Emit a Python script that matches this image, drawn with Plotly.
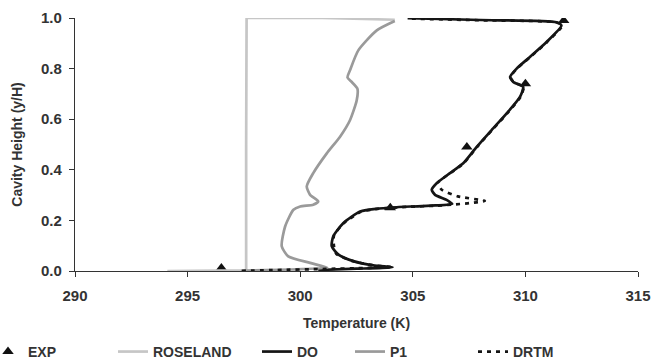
import plotly.graph_objects as go

# ---- data ----
exp_T = [296.5, 304.0, 307.4, 310.0, 311.7]
exp_y = [0.012, 0.25, 0.49, 0.74, 0.99]

ros_T = [294.1, 297.6, 297.6, 297.62, 301.0, 304.2]
ros_y = [0.0, 0.003, 0.5, 1.0, 1.0, 0.993]

do_T = [300.8, 302.5, 304.1, 303.25, 302.36, 301.7, 301.4, 301.47, 301.92, 302.66, 303.5, 304.9,
        306.0, 306.75, 306.5, 305.99, 305.84, 306.06, 306.65, 307.24, 307.84, 308.5, 309.17,
        309.76, 309.9, 309.46, 309.32, 309.61, 310.2, 310.94, 311.6, 311.38, 308.0, 304.77]
do_y = [0.004, 0.009, 0.015, 0.022, 0.039, 0.065, 0.098, 0.137, 0.19, 0.235, 0.247, 0.255,
        0.259, 0.265, 0.281, 0.301, 0.321, 0.347, 0.387, 0.426, 0.491, 0.557, 0.623,
        0.688, 0.728, 0.747, 0.767, 0.80, 0.846, 0.905, 0.970, 0.983, 0.992, 0.999]

p1_T = [297.6, 299.5, 301.2, 300.44, 299.47, 299.18, 299.33, 299.7, 300.0, 300.58, 300.8,
        300.44, 300.29, 300.58, 301.18, 301.77, 302.21, 302.51, 302.54, 302.29, 302.1,
        302.21, 302.58, 303.4, 304.2]
p1_y = [0.002, 0.006, 0.013, 0.032, 0.058, 0.098, 0.176, 0.242, 0.255, 0.262, 0.275,
        0.301, 0.334, 0.387, 0.465, 0.531, 0.596, 0.675, 0.721, 0.747, 0.765,
        0.793, 0.872, 0.951, 0.988]

drtm_T = [297.4, 299.0, 301.0, 303.0, 304.1, 303.2, 302.3, 301.6, 301.5, 301.5, 301.95, 302.7,
          303.5, 304.9, 306.0, 306.7, 307.5, 308.2, 307.0, 306.3, 306.1, 306.67, 307.26,
          307.86, 308.52, 309.19, 309.78, 309.92, 309.48, 309.34, 309.63, 310.22, 310.96,
          311.62, 311.4, 308.0, 304.77]
drtm_y = [0.001, 0.004, 0.008, 0.012, 0.015, 0.023, 0.04, 0.068, 0.098, 0.14, 0.19, 0.234,
          0.246, 0.254, 0.258, 0.262, 0.268, 0.277, 0.295, 0.32, 0.347, 0.387, 0.426,
          0.491, 0.557, 0.623, 0.688, 0.728, 0.747, 0.767, 0.80, 0.846, 0.905,
          0.968, 0.982, 0.991, 0.998]

x_ticks = [290, 295, 300, 305, 310, 315]
y_ticks = [0.0, 0.2, 0.4, 0.6, 0.8, 1.0]

FONT = "Liberation Sans, Arial, sans-serif"
FS = 15
TXT = "#333333"

fig = go.Figure()
fig.add_trace(go.Scatter(x=exp_T, y=exp_y, mode="markers", name="EXP", legend="legend",
                         marker=dict(symbol="triangle-up", size=10, color="#111111")))
fig.add_trace(go.Scatter(x=ros_T, y=ros_y, mode="lines", name="ROSELAND", legend="legend2",
                         line=dict(color="#c6c6c6", width=2.7)))
fig.add_trace(go.Scatter(x=do_T, y=do_y, mode="lines", name="DO", legend="legend3",
                         line=dict(color="#151515", width=2.7, shape="spline", smoothing=0.6)))
fig.add_trace(go.Scatter(x=p1_T, y=p1_y, mode="lines", name="P1", legend="legend4",
                         line=dict(color="#9a9a9a", width=2.7, shape="spline", smoothing=0.6)))
fig.add_trace(go.Scatter(x=drtm_T, y=drtm_y, mode="lines", name="DRTM", legend="legend5",
                         line=dict(color="#151515", width=2.7, dash="4px,5px",
                                   shape="spline", smoothing=0.6)))

axis_common = dict(showline=True, linecolor="#333333", linewidth=1.2, showgrid=False,
                   zeroline=False, ticks="outside", ticklen=5, tickcolor="#333333",
                   automargin=False,
                   tickfont=dict(family=FONT, size=FS, color=TXT, weight="bold"))

fig.update_xaxes(range=[290, 315], tickvals=x_ticks, ticktext=[str(v) for v in x_ticks],
                 title=dict(text="Temperature (K)",
                            font=dict(family=FONT, size=FS - 1, color=TXT, weight="bold")),
                 ticklabelstandoff=6, **axis_common)
fig.update_yaxes(range=[0, 1], tickvals=y_ticks, ticktext=[f"{v:.1f}" for v in y_ticks],
                 title=dict(text="Cavity Height (y/H)",
                            font=dict(family=FONT, size=FS - 1, color=TXT, weight="bold")),
                 ticklabelstandoff=4, **axis_common)

# one small legend per series, placed along the bottom row
PLOT_L, PLOT_W = 75, 563
def lx(px):
    return (px - PLOT_L) / PLOT_W

leg_font = dict(family=FONT, size=FS - 1, color=TXT, weight="bold")
leg_common = dict(orientation="h", yanchor="middle", y=-0.32, xanchor="left",
                  font=leg_font, bgcolor="rgba(0,0,0,0)", itemwidth=30)

fig.update_layout(
    width=652, height=364,
    margin=dict(l=75, r=14, t=18, b=93, autoexpand=False),
    paper_bgcolor="white", plot_bgcolor="white",
    showlegend=True,
    legend=dict(x=lx(-12), **leg_common),
    legend2=dict(x=lx(113), **leg_common),
    legend3=dict(x=lx(257), **leg_common),
    legend4=dict(x=lx(350), **leg_common),
    legend5=dict(x=lx(473), **leg_common),
)

fig.write_html("out.html")
